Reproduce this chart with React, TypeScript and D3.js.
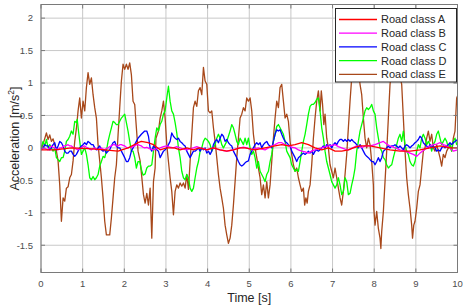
import React from "react";
import * as d3 from "d3";

type Pt = [number, number];

const xTicks = [0, 1, 2, 3, 4, 5, 6, 7, 8, 9, 10];
const yTicks = [-1.5, -1, -0.5, 0, 0.5, 1, 1.5, 2];
const xLimits: [number, number] = [0, 10];
const yLimits: [number, number] = [-1.92, 2.21];

const seriesNames = ["Road class A", "Road class B", "Road class C", "Road class D", "Road class E"];
const seriesColors = ["#ff0000", "#ff00ff", "#0000ff", "#00ff00", "#a8481a"];

const roadA: Pt[] = [
  [0, -0.03], [0.33, -0.03], [0.73, 0], [1.13, -0.01], [1.53, -0.03], [1.85, -0.05], [2.09, 0],
  [2.33, 0.08], [2.41, 0.1], [2.57, 0.08], [2.7, 0.05], [2.86, -0.03], [3.02, 0], [3.2, 0],
  [3.34, -0.03], [3.5, 0], [3.66, -0.03], [3.8, 0], [3.98, -0.03], [4.14, 0], [4.3, -0.03],
  [4.46, -0.05], [4.62, -0.03], [4.78, 0], [4.9, 0], [5.14, -0.03], [5.38, 0], [5.62, 0.03],
  [5.78, 0.05], [5.94, 0.03], [6.1, 0.05], [6.26, 0.08], [6.42, 0.05], [6.58, 0], [6.74, -0.03],
  [6.9, 0], [7.06, -0.05], [7.22, -0.05], [7.38, -0.03], [7.5, 0], [7.66, 0.03], [7.9, 0.03],
  [8.14, 0], [8.38, -0.03], [8.62, -0.05], [8.86, -0.05], [9.1, -0.03], [9.34, 0], [9.58, 0.03],
  [9.82, 0], [10, 0],
];

const roadB: Pt[] = [
  [0, -0.03], [0.05, -0.01], [0.09, 0], [0.13, -0.02], [0.17, -0.03], [0.21, 0.01], [0.25, 0.03],
  [0.29, 0.01], [0.33, 0], [0.37, -0.02], [0.41, -0.03], [0.45, 0], [0.49, 0], [0.53, 0.02],
  [0.57, 0.03], [0.61, 0.04], [0.65, 0.05], [0.69, 0.03], [0.73, 0.03], [0.77, 0.01], [0.81, 0],
  [0.85, -0.02], [0.89, -0.03], [0.93, -0.01], [0.97, 0], [1.01, 0.02], [1.05, 0.03], [1.09, 0.01],
  [1.13, 0], [1.17, -0.02], [1.21, -0.03], [1.25, -0.01], [1.29, 0], [1.33, -0.02], [1.37, -0.03],
  [1.41, -0.01], [1.45, 0], [1.49, -0.02], [1.53, -0.03], [1.57, -0.01], [1.61, 0], [1.65, 0.02],
  [1.69, 0.03], [1.73, 0.05], [1.77, 0.05], [1.81, 0.03], [1.85, 0.03], [1.89, 0.05], [1.93, 0.05],
  [1.97, 0.04], [2.01, 0.03], [2.05, 0.01], [2.09, 0], [2.13, 0.01], [2.17, 0], [2.21, 0.02],
  [2.25, 0.03], [2.29, 0.05], [2.33, 0.05], [2.37, 0.04], [2.41, 0.03], [2.45, 0.01], [2.49, 0],
  [2.54, 0.01], [2.6, -0.01], [2.7, -0.03], [2.78, -0.01], [2.86, 0], [2.94, 0.02], [3.02, 0.03],
  [3.1, 0.01], [3.18, 0], [3.26, 0.02], [3.34, 0], [3.42, -0.02], [3.5, -0.03], [3.58, -0.01],
  [3.66, 0], [3.74, 0.02], [3.82, 0], [3.9, -0.01], [3.98, -0.03], [4.06, -0.01], [4.14, 0],
  [4.22, -0.02], [4.3, -0.03], [4.38, -0.04], [4.46, -0.05], [4.54, -0.04], [4.62, -0.03],
  [4.7, -0.01], [4.78, 0], [4.86, 0.01], [4.94, 0], [5.06, -0.03], [5.14, -0.01], [5.22, 0],
  [5.3, -0.02], [5.38, -0.03], [5.46, 0], [5.54, 0.03], [5.62, 0.05], [5.7, 0.08], [5.78, 0.08],
  [5.86, 0.05], [5.94, 0.03], [6.02, 0.01], [6.1, 0], [6.18, -0.03], [6.26, -0.05], [6.34, -0.06],
  [6.42, -0.08], [6.5, -0.05], [6.58, -0.03], [6.66, -0.01], [6.74, 0], [6.82, 0.02], [6.9, 0.03],
  [6.98, 0.04], [7.06, 0.05], [7.14, 0.02], [7.22, 0], [7.3, -0.02], [7.38, -0.03], [7.48, 0],
  [7.58, 0.03], [7.7, 0.01], [7.8, 0.03], [7.9, 0.03], [8.02, 0.05], [8.14, 0.08], [8.22, 0.1],
  [8.3, 0.06], [8.38, 0.03], [8.5, 0], [8.62, -0.03], [8.74, -0.05], [8.86, -0.08], [8.94, -0.1],
  [9.02, -0.13], [9.1, -0.08], [9.18, -0.04], [9.26, 0], [9.34, 0.03], [9.42, 0.05], [9.5, 0.06],
  [9.58, 0.08], [9.66, 0.05], [9.74, 0.03], [9.82, 0], [9.9, -0.05], [10, -0.03],
];

const roadC: Pt[] = [
  [0, -0.03], [0.05, 0], [0.09, 0.05], [0.13, 0.03], [0.17, 0.03], [0.21, -0.03], [0.25, 0],
  [0.29, 0.05], [0.33, 0.08], [0.37, -0.03], [0.41, 0.03], [0.45, 0.1], [0.49, 0.08], [0.53, 0.03],
  [0.57, -0.05], [0.61, -0.08], [0.65, -0.08], [0.69, -0.05], [0.73, -0.05], [0.77, -0.1],
  [0.81, -0.13], [0.85, -0.1], [0.89, -0.05], [0.93, 0], [0.97, 0.03], [1.01, 0.05], [1.05, 0.08],
  [1.09, 0.05], [1.13, 0.1], [1.17, 0.08], [1.21, 0.05], [1.25, 0.05], [1.29, 0], [1.33, -0.03],
  [1.37, 0], [1.41, 0.03], [1.45, -0.03], [1.49, -0.05], [1.53, -0.03], [1.57, -0.08], [1.61, -0.05],
  [1.65, -0.03], [1.69, 0.03], [1.73, 0.08], [1.77, 0.1], [1.81, 0.03], [1.85, 0], [1.89, 0],
  [1.93, -0.05], [1.97, -0.1], [2.01, -0.15], [2.05, -0.21], [2.09, -0.21], [2.13, -0.15],
  [2.17, -0.05], [2.21, 0], [2.25, 0.05], [2.29, 0.1], [2.33, 0.15], [2.37, 0.18], [2.41, 0.21],
  [2.49, 0.26], [2.54, 0.26], [2.58, 0.18], [2.62, 0], [2.66, -0.05], [2.7, 0.03], [2.74, 0],
  [2.78, -0.03], [2.82, -0.05], [2.86, -0.15], [2.9, -0.1], [2.94, -0.05], [2.98, -0.03], [3.02, 0],
  [3.06, 0.05], [3.1, 0.1], [3.14, 0.23], [3.18, 0.18], [3.22, 0.15], [3.26, 0.13], [3.3, 0.15],
  [3.34, 0.1], [3.38, 0.08], [3.42, 0.05], [3.46, 0.03], [3.5, -0.05], [3.54, -0.1], [3.58, -0.15],
  [3.62, -0.1], [3.66, -0.05], [3.7, -0.05], [3.74, -0.03], [3.78, 0], [3.82, -0.05], [3.86, 0],
  [3.9, -0.03], [3.94, 0], [3.98, -0.08], [4.02, -0.05], [4.06, -0.1], [4.1, -0.05], [4.14, 0.05],
  [4.18, 0.1], [4.22, 0.13], [4.26, 0.08], [4.3, 0.15], [4.34, 0.21], [4.38, 0.18], [4.42, 0.1],
  [4.46, 0.13], [4.5, 0.08], [4.54, 0.05], [4.58, 0.03], [4.62, -0.05], [4.66, -0.1], [4.7, -0.15],
  [4.74, -0.21], [4.78, -0.26], [4.82, -0.28], [4.86, -0.26], [4.9, -0.23], [4.94, -0.21],
  [4.98, -0.2], [5.02, -0.1], [5.06, -0.05], [5.1, 0], [5.14, 0.05], [5.18, 0.08], [5.22, 0.05],
  [5.26, 0.08], [5.3, 0], [5.34, 0.05], [5.38, 0.08], [5.42, 0.1], [5.46, 0.05], [5.5, 0.03],
  [5.54, 0], [5.58, 0.1], [5.62, 0.21], [5.66, 0.28], [5.7, 0.26], [5.74, 0.28], [5.78, 0.21],
  [5.82, 0.15], [5.86, 0.1], [5.9, 0.08], [5.94, 0.05], [5.98, 0.03], [6.02, -0.05], [6.06, -0.1],
  [6.1, -0.15], [6.14, -0.21], [6.18, -0.15], [6.22, -0.13], [6.26, -0.1], [6.3, -0.08],
  [6.34, -0.1], [6.38, -0.08], [6.42, -0.05], [6.46, -0.08], [6.5, -0.05], [6.54, -0.1],
  [6.58, -0.05], [6.62, -0.03], [6.66, -0.05], [6.7, -0.03], [6.74, 0], [6.78, 0.03], [6.82, 0],
  [6.86, 0.05], [6.9, 0.03], [6.94, 0.05], [6.98, 0], [7.02, 0.05], [7.06, 0.08], [7.1, 0.05],
  [7.14, 0.1], [7.18, 0.13], [7.22, 0.13], [7.26, 0.1], [7.3, 0.13], [7.34, 0.1], [7.38, 0.13],
  [7.42, 0.1], [7.46, 0.13], [7.5, 0.1], [7.54, 0.08], [7.58, 0.05], [7.62, 0], [7.66, 0.05],
  [7.7, 0], [7.74, -0.05], [7.78, -0.1], [7.82, -0.13], [7.86, -0.15], [7.9, -0.18], [7.94, -0.21],
  [7.98, -0.21], [8.02, -0.26], [8.06, -0.21], [8.1, -0.15], [8.14, -0.21], [8.18, -0.15],
  [8.22, -0.05], [8.26, -0.03], [8.3, 0], [8.34, 0.03], [8.38, 0], [8.42, 0.03], [8.46, 0.03],
  [8.5, 0.05], [8.54, 0.03], [8.58, 0], [8.62, 0.03], [8.66, 0], [8.7, -0.03], [8.74, 0.03],
  [8.78, 0.05], [8.82, 0.03], [8.86, 0], [8.9, 0.03], [8.94, 0.05], [8.98, 0.08], [9.02, 0.1],
  [9.06, 0.13], [9.1, 0.18], [9.14, 0.15], [9.18, 0.08], [9.22, 0.05], [9.26, 0.03], [9.3, 0],
  [9.34, 0.05], [9.38, 0], [9.42, 0.03], [9.46, 0], [9.5, -0.05], [9.54, -0.03], [9.58, -0.05],
  [9.62, 0], [9.66, 0.03], [9.7, 0], [9.74, 0.03], [9.78, 0.05], [9.82, 0.08], [9.86, 0.05],
  [9.9, 0.08], [9.94, 0.1], [10, 0.13],
];

const roadD: Pt[] = [
  [0, 0], [0.05, 0.1], [0.09, 0.03], [0.13, 0.13], [0.17, 0], [0.21, 0.05], [0.25, 0], [0.29, -0.05],
  [0.33, 0], [0.37, -0.15], [0.41, -0.18], [0.45, -0.21], [0.49, -0.15], [0.53, -0.15], [0.57, -0.05],
  [0.61, 0.1], [0.65, 0.13], [0.69, 0.18], [0.73, 0.26], [0.77, 0.21], [0.81, 0.41], [0.85, 0.39],
  [0.87, 0.44], [0.9, 0.26], [0.93, 0.1], [0.97, -0.1], [1.01, -0.05], [1.05, 0], [1.09, -0.1],
  [1.13, -0.26], [1.17, -0.46], [1.21, -0.49], [1.25, -0.44], [1.29, -0.49], [1.33, -0.46],
  [1.37, -0.41], [1.41, -0.28], [1.45, -0.21], [1.49, -0.13], [1.53, -0.15], [1.57, -0.05],
  [1.61, 0.1], [1.65, 0.21], [1.69, 0.31], [1.73, 0.41], [1.77, 0.39], [1.81, 0.36], [1.85, 0.36],
  [1.89, 0.41], [1.93, 0.46], [1.97, 0.49], [2.01, 0.52], [2.05, 0.39], [2.09, 0.26], [2.13, 0.1],
  [2.17, -0.05], [2.21, -0.05], [2.25, -0.15], [2.29, -0.31], [2.33, -0.21], [2.37, -0.21],
  [2.41, -0.33], [2.45, -0.42], [2.5, -0.4], [2.54, -0.31], [2.58, -0.28], [2.62, -0.28],
  [2.66, -0.26], [2.7, -0.05], [2.74, 0.15], [2.78, 0.31], [2.82, 0.26], [2.86, 0.36], [2.9, 0.41],
  [2.94, 0.52], [2.98, 0.57], [3.02, 0.77], [3.06, 0.95], [3.1, 0.72], [3.14, 0.57], [3.18, 0.52],
  [3.22, 0.39], [3.26, 0.23], [3.3, 0], [3.34, -0.15], [3.38, -0.36], [3.42, -0.46], [3.46, -0.49],
  [3.5, -0.41], [3.54, -0.46], [3.58, -0.62], [3.62, -0.67], [3.66, -0.62], [3.7, -0.46],
  [3.74, -0.31], [3.78, -0.21], [3.82, -0.05], [3.86, 0], [3.9, 0.1], [3.94, 0.15], [3.98, 0.13],
  [4.02, 0.1], [4.06, 0.05], [4.1, -0.05], [4.14, 0], [4.18, 0.05], [4.22, 0.15], [4.26, 0.21],
  [4.3, 0.15], [4.34, 0.05], [4.38, 0], [4.42, 0.05], [4.46, 0.1], [4.5, 0.18], [4.54, 0.26],
  [4.58, 0.36], [4.62, 0.31], [4.66, 0.21], [4.7, 0.1], [4.74, 0.05], [4.78, 0.15], [4.82, 0.1],
  [4.86, 0.05], [4.9, 0.15], [4.94, 0.05], [4.98, 0.15], [5.02, 0], [5.06, -0.1], [5.1, -0.05],
  [5.14, -0.15], [5.18, -0.31], [5.22, -0.21], [5.26, -0.36], [5.3, -0.41], [5.34, -0.46],
  [5.38, -0.52], [5.42, -0.41], [5.46, -0.36], [5.5, -0.21], [5.54, -0.1], [5.58, 0.1], [5.62, 0.21],
  [5.66, 0.33], [5.7, 0.36], [5.74, 0.31], [5.78, 0.26], [5.82, 0.21], [5.86, 0.1], [5.9, -0.05],
  [5.94, -0.1], [5.98, -0.15], [6.02, -0.26], [6.06, -0.31], [6.1, -0.36], [6.14, -0.33],
  [6.18, -0.36], [6.22, -0.21], [6.26, -0.05], [6.3, 0.1], [6.34, 0.21], [6.38, 0.36], [6.42, 0.52],
  [6.46, 0.64], [6.5, 0.67], [6.54, 0.67], [6.58, 0.7], [6.62, 0.75], [6.66, 0.77], [6.7, 0.57],
  [6.74, 0.31], [6.78, 0.15], [6.82, -0.05], [6.86, -0.21], [6.9, -0.31], [6.94, -0.41],
  [6.98, -0.52], [7.02, -0.57], [7.06, -0.62], [7.1, -0.57], [7.14, -0.46], [7.18, -0.57],
  [7.22, -0.72], [7.26, -0.67], [7.3, -0.46], [7.34, -0.52], [7.38, -0.72], [7.42, -0.7],
  [7.46, -0.57], [7.5, -0.46], [7.54, -0.31], [7.58, -0.05], [7.62, 0.1], [7.66, 0.26], [7.7, 0.36],
  [7.74, 0.46], [7.78, 0.57], [7.82, 0.62], [7.86, 0.59], [7.9, 0.62], [7.94, 0.67], [7.98, 0.57],
  [8.02, 0.52], [8.06, 0.31], [8.1, 0.15], [8.14, 0], [8.18, -0.05], [8.22, -0.15], [8.26, -0.18],
  [8.3, -0.26], [8.34, -0.31], [8.38, -0.28], [8.42, -0.26], [8.46, -0.15], [8.5, -0.05],
  [8.54, 0.05], [8.58, 0.15], [8.62, 0.21], [8.66, 0.1], [8.7, 0.26], [8.74, 0.05], [8.78, -0.05],
  [8.82, -0.1], [8.86, -0.21], [8.9, -0.26], [8.94, -0.28], [8.98, -0.21], [9.02, -0.05],
  [9.06, 0.05], [9.1, 0], [9.14, 0.15], [9.18, 0.21], [9.22, 0.15], [9.26, 0.05], [9.3, 0.1],
  [9.34, 0.05], [9.38, -0.05], [9.42, 0.05], [9.46, 0.1], [9.5, 0.21], [9.54, 0.26], [9.58, 0.15],
  [9.62, 0.05], [9.66, 0.1], [9.7, 0.15], [9.74, 0.1], [9.78, 0], [9.82, 0.05], [9.86, -0.05],
  [9.9, 0.1], [9.94, 0.15], [9.98, 0.05], [10, 0.05],
];

const roadE: Pt[] = [
  [0, -0.03], [0.07, 0.1], [0.13, 0.23], [0.17, 0.13], [0.21, 0.2], [0.25, 0.1], [0.29, 0.14],
  [0.33, 0.05], [0.37, -0.05], [0.41, -0.2], [0.45, -0.57], [0.49, -1.13], [0.53, -0.77],
  [0.57, -0.82], [0.61, -0.62], [0.65, -0.6], [0.69, -0.46], [0.73, -0.41], [0.77, -0.2], [0.81, 0.1],
  [0.85, 0.3], [0.89, 0.57], [0.93, 0.77], [0.97, 0.46], [1.01, 0.72], [1.05, 0.57], [1.09, 0.93],
  [1.13, 1.16], [1.17, 0.98], [1.21, 1.08], [1.25, 0.82], [1.29, 0.62], [1.33, 0.46], [1.37, 0.05],
  [1.41, -0.2], [1.45, -0.46], [1.49, -0.77], [1.53, -1.13], [1.57, -1.34], [1.65, -1.34],
  [1.69, -1.08], [1.73, -0.77], [1.77, -0.46], [1.81, -0.26], [1.85, 0.2], [1.89, 0.62],
  [1.93, 1.03], [1.97, 1.29], [2.01, 1.21], [2.05, 1.29], [2.09, 1.21], [2.13, 1.31], [2.17, 1.13],
  [2.21, 0.72], [2.25, 0.67], [2.29, 0.31], [2.33, -0.05], [2.38, -0.2], [2.42, -0.45], [2.46, -0.72],
  [2.5, -0.85], [2.54, -0.7], [2.58, -0.88], [2.62, -0.62], [2.66, -1.39], [2.7, -0.52], [2.74, -0.31],
  [2.76, 0.15], [2.82, 0.26], [2.86, 0.46], [2.9, 0.57], [2.94, 0.72], [2.98, 0.46], [3.02, 0.05],
  [3.06, -0.21], [3.1, -0.46], [3.14, -0.67], [3.18, -1.03], [3.22, -0.67], [3.26, -0.57],
  [3.3, -0.62], [3.34, -0.54], [3.38, -0.59], [3.42, -0.54], [3.46, -0.62], [3.5, -0.41],
  [3.54, -0.64], [3.58, -0.21], [3.62, 0.21], [3.66, 0.62], [3.7, 0.72], [3.74, 0.64], [3.78, 0.88],
  [3.82, 0.93], [3.86, 0.82], [3.9, 1.24], [3.94, 1.03], [3.98, 0.98], [4.02, 0.57], [4.06, 0.54],
  [4.1, 0.57], [4.14, 0.31], [4.18, 0.1], [4.22, -0.15], [4.26, -0.41], [4.3, -0.62], [4.34, -0.77],
  [4.38, -0.93], [4.42, -1.19], [4.46, -1.34], [4.5, -1.47], [4.54, -1.39], [4.58, -1.19],
  [4.62, -0.88], [4.66, -0.52], [4.7, -0.15], [4.74, 0.15], [4.78, 0.46], [4.82, 0.52], [4.86, 0.62],
  [4.9, 0.57], [4.94, 0.77], [4.98, 0.72], [5.02, 0.77], [5.06, 0.57], [5.1, 0.21], [5.14, 0],
  [5.18, -0.15], [5.22, -0.31], [5.26, -0.46], [5.3, -0.72], [5.34, -0.57], [5.38, -0.77],
  [5.42, -0.52], [5.46, -0.77], [5.5, -0.57], [5.54, -0.21], [5.58, 0.15], [5.62, 0.46], [5.66, 0.72],
  [5.7, 0.62], [5.74, 0.93], [5.78, 0.98], [5.82, 0.72], [5.86, 0.46], [5.9, 0.52], [5.94, 0.41],
  [5.98, 0.1], [6.02, -0.1], [6.06, -0.26], [6.1, -0.36], [6.14, -0.31], [6.18, -0.46], [6.22, -0.57],
  [6.26, -0.67], [6.3, -0.62], [6.33, -0.88], [6.36, -0.77], [6.39, -0.85], [6.42, -0.67],
  [6.46, -0.57], [6.5, -0.26], [6.54, 0.15], [6.58, 0.46], [6.62, 0.72], [6.66, 0.88], [6.7, 0.57],
  [6.73, 0.88], [6.76, 0.67], [6.79, 0.36], [6.82, 0.52], [6.86, 0.15], [6.9, 0], [6.94, -0.26],
  [6.98, -0.36], [7.02, -0.46], [7.06, -0.31], [7.1, -0.46], [7.14, -0.62], [7.18, -0.77],
  [7.22, -0.88], [7.26, -0.67], [7.3, -0.41], [7.34, -0.1], [7.38, 0.31], [7.42, 0.72], [7.46, 1.08],
  [7.52, 1.3], [7.6, 1.35], [7.66, 0.98], [7.7, 0.82], [7.74, 0.46], [7.78, 0.15], [7.82, 0],
  [7.86, 0.15], [7.9, 0.05], [7.94, -0.21], [7.98, -0.57], [7.99, -0.93], [8.02, -1.19], [8.06, -0.98],
  [8.1, -1.24], [8.14, -1.39], [8.16, -1.55], [8.18, -1.29], [8.22, -0.98], [8.26, -0.52],
  [8.3, -0.05], [8.34, 0.46], [8.38, 0.98], [8.45, 1.35], [8.55, 1.3], [8.66, 0.98], [8.7, 0.46],
  [8.74, -0.05], [8.78, -0.46], [8.82, -0.72], [8.86, -0.93], [8.9, -1.19], [8.92, -1.39],
  [8.95, -1.19], [8.98, -1.13], [9.02, -0.93], [9.06, -0.67], [9.1, -0.57], [9.14, -0.31],
  [9.18, -0.05], [9.22, 0], [9.26, 0.15], [9.3, 0.26], [9.34, 0.1], [9.38, 0.21], [9.42, 0],
  [9.46, -0.05], [9.5, 0.05], [9.54, -0.05], [9.58, -0.15], [9.62, -0.28], [9.66, -0.1], [9.7, -0.15],
  [9.74, -0.05], [9.78, 0], [9.82, 0.05], [9.86, -0.05], [9.9, 0.15], [9.94, 0.26], [9.98, 0.77],
  [10, 0.8],
];

const allSeries = [roadA, roadB, roadC, roadD, roadE];

const W = 466;
const H = 307;
const margin = { left: 41, right: 8.5, top: 4.5, bottom: 34.5 };
const FONT = "'Liberation Sans', Arial, Helvetica, sans-serif";

export default function App() {
  const x = d3.scaleLinear().domain(xLimits).range([margin.left, W - margin.right]);
  const y = d3.scaleLinear().domain(yLimits).range([H - margin.bottom, margin.top]);
  const line = d3
    .line<Pt>()
    .x((d) => x(d[0]))
    .y((d) => y(d[1]));

  const x0 = x.range()[0];
  const x1 = x.range()[1];
  const y0 = y.range()[0];
  const y1 = y.range()[1];
  const drawOrder = [4, 3, 2, 1, 0];

  const legend = { x: 335.5, y: 8.5, w: 121, h: 73.5, row0: 19.5, rowH: 13.7 };

  return (
    <div style={{ position: "fixed", left: 0, top: 0, width: W, height: H, background: "#fff" }}>
      <svg width={W} height={H} style={{ display: "block", fontFamily: FONT }}>
        <rect x={0} y={0} width={W} height={H} fill="#fff" />
        <defs>
          <clipPath id="plotClip">
            <rect x={x0} y={y1} width={x1 - x0} height={y0 - y1} />
          </clipPath>
        </defs>
        {xTicks.map((t) => (
          <line key={"gx" + t} x1={x(t)} x2={x(t)} y1={y0} y2={y1} stroke="#c8c8c8" strokeWidth={1} />
        ))}
        {yTicks.map((t) => (
          <line key={"gy" + t} x1={x0} x2={x1} y1={y(t)} y2={y(t)} stroke="#c8c8c8" strokeWidth={1} />
        ))}
        <g clipPath="url(#plotClip)">
          {drawOrder.map((i) => (
            <path
              key={seriesNames[i]}
              d={line(allSeries[i]) || ""}
              fill="none"
              stroke={seriesColors[i]}
              strokeWidth={1.3}
              strokeLinejoin="round"
            />
          ))}
        </g>
        <rect x={x0} y={y1} width={x1 - x0} height={y0 - y1} fill="none" stroke="#7a7a7a" strokeWidth={1} />
        {xTicks.map((t) => (
          <g key={"tx" + t}>
            <line x1={x(t)} x2={x(t)} y1={y0} y2={y0 - 4} stroke="#7a7a7a" />
            <line x1={x(t)} x2={x(t)} y1={y1} y2={y1 + 4} stroke="#7a7a7a" />
            <text x={x(t)} y={y0 + 14} textAnchor="middle" fontSize={9.5} fill="#4d4d4d">
              {t}
            </text>
          </g>
        ))}
        {yTicks.map((t) => (
          <g key={"ty" + t}>
            <line x1={x0} x2={x0 + 4} y1={y(t)} y2={y(t)} stroke="#7a7a7a" />
            <line x1={x1} x2={x1 - 4} y1={y(t)} y2={y(t)} stroke="#7a7a7a" />
            <text x={x0 - 8} y={y(t)} dy="0.35em" textAnchor="end" fontSize={9.5} fill="#4d4d4d">
              {t}
            </text>
          </g>
        ))}
        <text x={(x0 + x1) / 2} y={302} textAnchor="middle" fontSize={12.5} fill="#262626">
          Time [s]
        </text>
        <text
          transform={`translate(19,${(y0 + y1) / 2}) rotate(-90)`}
          textAnchor="middle"
          fontSize={12.5}
          fill="#262626"
        >
          Acceleration [m/s<tspan dy="-5" fontSize={8.5}>2</tspan>
          <tspan dy="5">]</tspan>
        </text>
        <rect x={legend.x} y={legend.y} width={legend.w} height={legend.h} fill="#fff" stroke="#262626" strokeWidth={1} />
        {seriesNames.map((n, i) => {
          const ry = legend.row0 + i * legend.rowH;
          return (
            <g key={"lg" + n}>
              <line x1={339} x2={377} y1={ry} y2={ry} stroke={seriesColors[i]} strokeWidth={1.3} />
              <text x={381} y={ry} dy="0.36em" fontSize={11} fill="#262626">
                {n}
              </text>
            </g>
          );
        })}
      </svg>
    </div>
  );
}
